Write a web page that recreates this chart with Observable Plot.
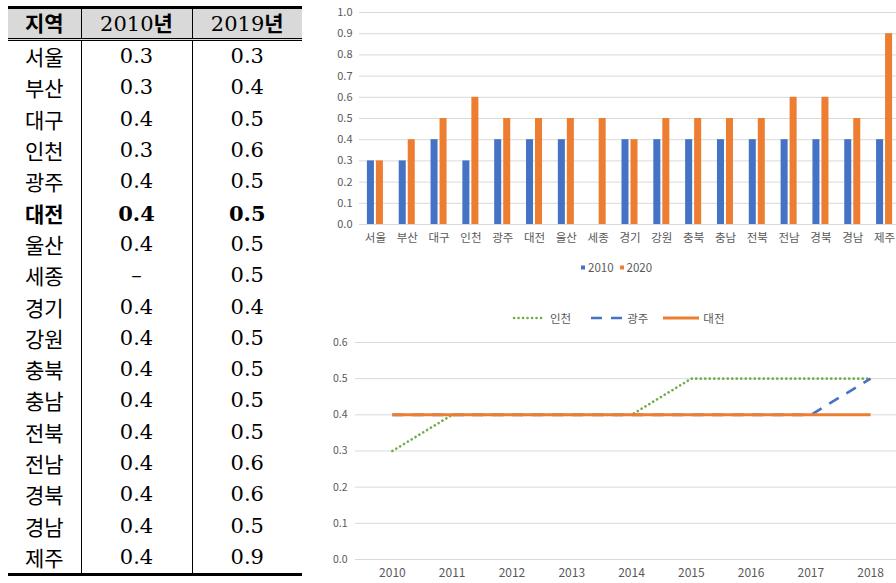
<!DOCTYPE html>
<html>
<head>
<meta charset="utf-8">
<script src="https://cdn.jsdelivr.net/npm/d3@7"></script>
<script src="https://cdn.jsdelivr.net/npm/@observablehq/plot@0.6"></script>
<style>
  html, body { margin: 0; padding: 0; background: #fff; }
  #root { position: relative; width: 896px; height: 583px; overflow: hidden; background: #fff; }
  #tbl { position: absolute; left: 8px; top: 6px; width: 294px; border-collapse: collapse; table-layout: fixed;
         border-top: 3px solid #000; border-bottom: 3px solid #000; }
  #tbl th { height: 29px; padding: 0; background: #d9d9d9; border-bottom: 3px double #000; font-weight: normal;
            font-family: "DejaVu Serif", "Noto Sans CJK KR", serif; font-size: 21px; line-height: 1; color: #000; }
  #tbl th .k { font-family: "Noto Sans CJK KR", sans-serif; font-weight: bold; font-size: 21px; }
  #tbl td { height: 31.3px; padding: 0; text-align: center; line-height: 1; color: #000; }
  #tbl td.reg { font-family: "Noto Sans CJK KR", sans-serif; font-size: 21px; }
  #tbl td.num { font-family: "DejaVu Serif", serif; font-size: 21px; }
  #tbl td + td, #tbl th + th { border-left: 1.5px solid #000; }
  #tbl tr.bold td { font-weight: bold; }
  .chart { position: absolute; }
  .legend { position: absolute; font-family: "Noto Sans CJK KR", sans-serif; font-size: 11.5px; color: #595959;
            white-space: nowrap; display: flex; align-items: center; }
  .legend .item { display: flex; align-items: center; }
  .legend svg { display: block; }
</style>
</head>
<body>
<div id="root"></div>
<script>
// ---- data ----
const regions = ["서울","부산","대구","인천","광주","대전","울산","세종","경기","강원","충북","충남","전북","전남","경북","경남","제주"];
const table2010 = [0.3,0.3,0.4,0.3,0.4,0.4,0.4,null,0.4,0.4,0.4,0.4,0.4,0.4,0.4,0.4,0.4];
const table2019 = [0.3,0.4,0.5,0.6,0.5,0.5,0.5,0.5,0.4,0.5,0.5,0.5,0.5,0.6,0.6,0.5,0.9];
const tableHeaders = ["지역","2010","2019"];
const boldRegion = "대전";

const barSeries = ["2010","2020"];
const bar2010 = [0.3,0.3,0.4,0.3,0.4,0.4,0.4,null,0.4,0.4,0.4,0.4,0.4,0.4,0.4,0.4,0.4];
const bar2020 = [0.3,0.4,0.5,0.6,0.5,0.5,0.5,0.5,0.4,0.5,0.5,0.5,0.5,0.6,0.6,0.5,0.9];
const barTicks = [0,0.1,0.2,0.3,0.4,0.5,0.6,0.7,0.8,0.9,1.0];

const years = ["2010","2011","2012","2013","2014","2015","2016","2017","2018"];
const lineSeries = ["인천","광주","대전"];
const incheon = [0.3,0.4,0.4,0.4,0.4,0.5,0.5,0.5,0.5];
const gwangju = [0.4,0.4,0.4,0.4,0.4,0.4,0.4,0.4,0.5];
const daejeon = [0.4,0.4,0.4,0.4,0.4,0.4,0.4,0.4,0.4];
const lineTicks = [0,0.1,0.2,0.3,0.4,0.5,0.6];

const BLUE = "#4472C4", ORANGE = "#ED7D31", GREEN = "#70AD47", GRID = "#d9d9d9", TXT = "#595959";
const root = document.getElementById("root");

// ---- table ----
const tbl = document.createElement("table");
tbl.id = "tbl";
const cg = document.createElement("colgroup");
[73,111,110].forEach(w => { const c = document.createElement("col"); c.style.width = w + "px"; cg.appendChild(c); });
tbl.appendChild(cg);
const thead = document.createElement("tr");
tableHeaders.forEach((h, i) => {
  const th = document.createElement("th");
  if (i === 0) { th.innerHTML = `<span class="k">${h}</span>`; }
  else { th.innerHTML = `${h}<span class="k">년</span>`; }
  thead.appendChild(th);
});
tbl.appendChild(thead);
regions.forEach((r, i) => {
  const tr = document.createElement("tr");
  if (r === boldRegion) tr.className = "bold";
  const a = document.createElement("td"); a.className = "reg"; a.textContent = r;
  const b = document.createElement("td"); b.className = "num"; b.textContent = table2010[i] == null ? "–" : table2010[i].toFixed(1);
  const c = document.createElement("td"); c.className = "num"; c.textContent = table2019[i].toFixed(1);
  tr.append(a, b, c);
  tbl.appendChild(tr);
});
root.appendChild(tbl);

// ---- bar chart ----
const barData = [];
regions.forEach((r, i) => {
  if (bar2010[i] != null) barData.push({region: r, series: barSeries[0], value: bar2010[i]});
  if (bar2020[i] != null) barData.push({region: r, series: barSeries[1], value: bar2020[i]});
});
const fmt = d3.format(".1f");
const bar = Plot.plot({
  width: 580, height: 255,
  marginLeft: 39, marginRight: 0, marginTop: 12, marginBottom: 31,
  style: {fontFamily: "'Noto Sans CJK KR', sans-serif", fontSize: "11px", color: TXT, background: "transparent", overflow: "visible"},
  x: {domain: regions, padding: 0, round: false, label: null},
  y: {domain: [0, 1], label: null},
  marks: [
    Plot.ruleY(barTicks, {stroke: GRID, strokeWidth: 1}),
    Plot.barY(barData.filter(d => d.series === barSeries[0]), {x: "region", y: "value", fill: BLUE, insetLeft: 7.9, insetRight: 16.9}),
    Plot.barY(barData.filter(d => d.series === barSeries[1]), {x: "region", y: "value", fill: ORANGE, insetLeft: 16.9, insetRight: 7.9}),
    Plot.axisX({tickSize: 0, tickPadding: 9, fontSize: 11.5, label: null}),
    Plot.axisY(barTicks, {tickSize: 0, tickPadding: 7, tickFormat: fmt, fontSize: 11, label: null})
  ]
});
bar.classList.add("chart");
bar.style.left = "320px"; bar.style.top = "0px";
root.appendChild(bar);

const barLeg = document.createElement("div");
barLeg.className = "legend";
barLeg.style.left = "581px"; barLeg.style.top = "259px"; barLeg.style.height = "16px";
barLeg.innerHTML = barSeries.map((s, i) =>
  `<span class="item" style="margin-right:6px"><svg width="5" height="5" style="margin-right:2px"><rect width="4" height="4" y="0.5" fill="${i ? ORANGE : BLUE}"/></svg>${s}</span>`
).join("");
root.appendChild(barLeg);

// ---- line chart ----
const lineData = [];
years.forEach((y, i) => {
  lineData.push({year: y, series: lineSeries[0], value: incheon[i]});
  lineData.push({year: y, series: lineSeries[1], value: gwangju[i]});
  lineData.push({year: y, series: lineSeries[2], value: daejeon[i]});
});
const line = Plot.plot({
  width: 580, height: 283,
  marginLeft: 35, marginRight: 0, marginTop: 42, marginBottom: 24,
  style: {fontFamily: "'Noto Sans CJK KR', sans-serif", fontSize: "11px", color: TXT, background: "transparent", overflow: "visible"},
  x: {type: "point", domain: years, padding: 0.5, round: false, insetLeft: 7, label: null},
  y: {domain: [0, 0.6], label: null},
  marks: [
    Plot.ruleY(lineTicks, {stroke: GRID, strokeWidth: 1}),
    Plot.lineY(lineData.filter(d => d.series === lineSeries[0]), {x: "year", y: "value", stroke: GREEN, strokeWidth: 2.6, strokeDasharray: "0.1 4.4", strokeLinecap: "round"}),
    Plot.lineY(lineData.filter(d => d.series === lineSeries[1]), {x: "year", y: "value", stroke: BLUE, strokeWidth: 2.6, strokeDasharray: "11 9", strokeLinecap: "butt"}),
    Plot.lineY(lineData.filter(d => d.series === lineSeries[2]), {x: "year", y: "value", stroke: ORANGE, strokeWidth: 3, strokeLinecap: "butt"}),
    Plot.axisX({tickSize: 0, tickPadding: 9, fontSize: 12, label: null}),
    Plot.axisY(lineTicks, {tickSize: 0, tickPadding: 8, tickFormat: fmt, fontSize: 10.5, label: null})
  ]
});
line.classList.add("chart");
line.style.left = "320px"; line.style.top = "300px";
root.appendChild(line);

const lineLeg = document.createElement("div");
lineLeg.className = "legend";
lineLeg.style.left = "512px"; lineLeg.style.top = "310px"; lineLeg.style.height = "16px";
const sw = [
  `<line x1="2" x2="32" y1="4" y2="4" stroke="${GREEN}" stroke-width="2.6" stroke-dasharray="0.1 4.4" stroke-linecap="round"/>`,
  `<line x1="0" x2="32" y1="4" y2="4" stroke="${BLUE}" stroke-width="2.6" stroke-dasharray="11 9"/>`,
  `<line x1="0" x2="36" y1="4" y2="4" stroke="${ORANGE}" stroke-width="3"/>`
];
const swW = [34, 32, 36];
const gaps = [20, 15, 0];
lineLeg.innerHTML = lineSeries.map((s, i) =>
  `<span class="item" style="margin-right:${gaps[i]}px"><svg width="${swW[i]}" height="8" style="margin-right:4px">${sw[i]}</svg>${s}</span>`
).join("");
root.appendChild(lineLeg);
</script>
</body>
</html>
